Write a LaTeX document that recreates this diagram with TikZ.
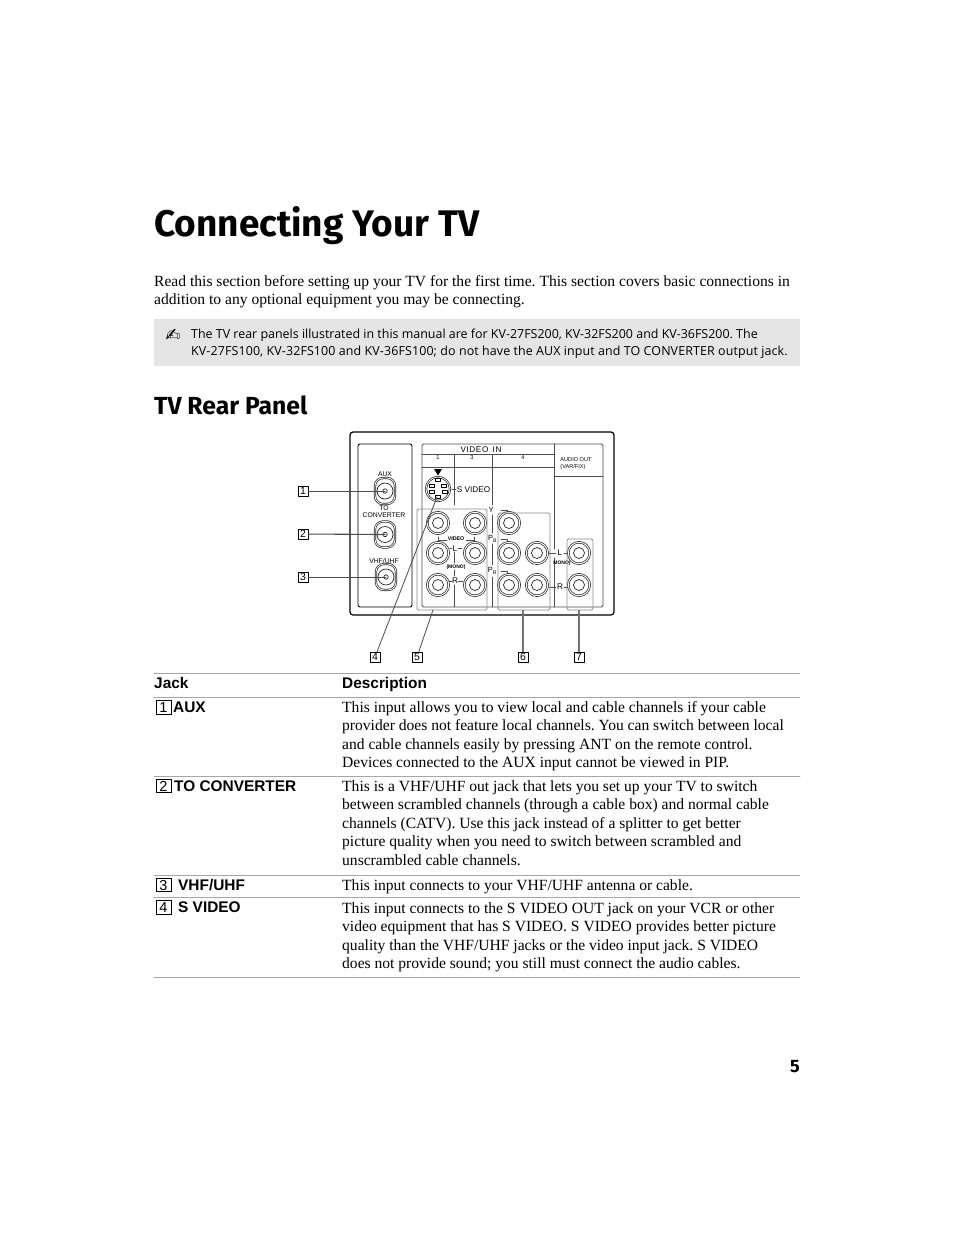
\documentclass[tikz,border=0pt]{standalone}
\usepackage{fontspec}
\setmainfont{Liberation Serif}
\setsansfont{Liberation Sans}
\newfontfamily\headfont{Fira Sans}
\newfontfamily\notefont{Open Sans}
\newfontfamily\symfont{DejaVu Sans}
\usetikzlibrary{positioning}
\usetikzlibrary{shadows}
\tikzset{
  body/.style={anchor=north west,inner sep=0pt,align=left,font=\frenchspacing\fontsize{15.57}{18.6}\selectfont},
  notetext/.style={anchor=north west,inner sep=0pt,align=left,font=\frenchspacing\notefont\fontsize{12.45}{17}\selectfont},
  tabhead/.style={anchor=base west,inner sep=0pt,font=\sffamily\bfseries\fontsize{15.4}{16}\selectfont},
  tabkey/.style={draw,fill=white,line width=.7pt,inner sep=0pt,minimum width=15pt,minimum height=13.5pt,font=\sffamily\fontsize{14.5}{15}\selectfont,drop shadow={shadow xshift=.6pt,shadow yshift=-.6pt,opacity=1,fill=black}},
  tabrule/.style={draw=black!35,line width=.7pt},
  callout/.style={draw,line width=.6pt,inner sep=0pt,minimum width=10pt,minimum height=10pt,font=\sffamily\fontsize{10.5}{10}\selectfont},
  leader/.style={draw=black!70,line width=.8pt},
  panelline/.style={draw=black!70,line width=.6pt},
  tiny/.style={inner sep=0pt,align=center,font=\sffamily\fontsize{6.8}{7.4}\selectfont},
  micro/.style={inner sep=0pt,align=left,font=\sffamily\fontsize{5.6}{7}\selectfont},
  small/.style={inner sep=0pt,font=\sffamily\fontsize{8.2}{9}\selectfont},
  rcajack/.style={circle,draw=black!85,double=white,double distance=1pt,line width=.7pt,inner sep=0pt,minimum size=21.5pt,
    path picture={\draw[draw=black!85,line width=.7pt] (path picture bounding box.center) circle (5.5pt);}},
  fjack/.style={rectangle,rounded corners=8pt,draw=black!85,double=white,double distance=.8pt,line width=.7pt,inner sep=0pt,minimum width=20pt,minimum height=26pt,
    path picture={\draw[draw=black!85,line width=.7pt] (path picture bounding box.center) circle (8pt);
      \draw[draw=black!85,fill=white,line width=.7pt] (path picture bounding box.center) circle (2.2pt);}},
  groupbox/.style={draw=black!45,line width=.9pt,rounded corners=1.5pt,inner sep=0pt},
}
\begin{document}
\begin{tikzpicture}[line cap=round,line join=round,x=1pt,y=-1pt]
\useasboundingbox (0,0) rectangle (954,1235);
\fill[white] (0,0) rectangle (954,1235);
% heading and intro
\node[anchor=base west,inner sep=0pt,font=\headfont\bfseries\fontsize{37}{44}\selectfont] (title) at (154,236) {Connecting Your TV};
\node[body] (intro) at (154,275) {Read this section before setting up your TV for the first time. This section covers basic connections in\\addition to any optional equipment you may be connecting.};
\fill[black!10] (154,319) rectangle (800,366);
\node[inner sep=0pt,font=\symfont\fontsize{18}{18}\selectfont] (pen) at (173,335) {✍};
\node[notetext] (note) at (191,329) {The TV rear panels illustrated in this manual are for KV-27FS200, KV-32FS200 and KV-36FS200. The\\{\addfontfeature{LetterSpace=0.9}KV-27FS100, KV-32FS100 and KV-36FS100; do not have the AUX input and TO CONVERTER output jack.}};
\node[anchor=base west,inner sep=0pt,font=\headfont\bfseries\fontsize{24.7}{28}\selectfont] (rear) at (154,414) {TV Rear Panel};
% panel
\draw[line width=1.2pt,rounded corners=3pt] (350,432) rectangle (614,615);
\draw[line width=.9pt,rounded corners=2pt] (358,444) rectangle (412,607);
\draw[panelline,rounded corners=1.5pt,line width=.8pt] (422,444) rectangle (603,607);
\draw[panelline] (422,454.5) -- (554,454.5);
\draw[panelline] (422,467) -- (554,467);
\draw[panelline] (554,444) -- (554,549);
\draw[panelline] (554,558) -- (554,607);
\draw[panelline] (554,476) -- (603,476);
\draw[panelline] (454,454.5) -- (454,505);
\draw[panelline] (454,552) -- (454,563);
\draw[panelline] (454,570) -- (454,576);
\draw[panelline] (454,585) -- (454,607);
\draw[panelline] (492,454.5) -- (492,505);
\draw[panelline] (492,515) -- (492,533);
\draw[panelline] (492,544) -- (492,565);
\draw[panelline] (492,577) -- (492,607);
% panel labels
\node[tiny] (auxlab) at (385,474.5) {AUX};
\node[tiny] (convlab) at (384,511.5) {TO\\CONVERTER};
\node[tiny] (vhflab) at (384,561) {VHF/UHF};
\node[small] (vidin) at (481,449.5) {V\hspace{.6pt}I\hspace{.6pt}D\hspace{.6pt}E\hspace{.6pt}O\, \hspace{.6pt}I\hspace{.6pt}N};
\node[micro] (col1) at (438,458) {1};
\node[micro] (col3) at (472,458) {3};
\node[micro] (col4) at (523,458) {4};
\node[micro] (audio) at (576,464) {AUDIO OUT\\(VAR/FIX)};
\node[small] (svid) at (473.5,489.5) {S VIDEO};
\node[small,font=\sffamily\fontsize{7.5}{8}\selectfont] (ylab) at (491,510) {Y};
\node[small,font=\sffamily\fontsize{7.5}{8}\selectfont] (pblab) at (492.5,539) {P\textsubscript{B}};
\node[small,font=\sffamily\fontsize{7.5}{8}\selectfont] (prlab) at (492.5,571) {P\textsubscript{R}};
\node[micro,font=\sffamily\bfseries\fontsize{5.3}{6}\selectfont] (vidlab) at (456,538.5) {VIDEO};
\node[small] (llab) at (455,548.5) {L};
\node[small] (rlab) at (455,581) {R};
\node[micro,font=\sffamily\bfseries\fontsize{5}{6}\selectfont] (monolab) at (456,567) {(MONO)};
\node[small] (llab2) at (560,553) {L};
\node[small] (rlab2) at (560,587) {R};
\node[micro,font=\sffamily\bfseries\fontsize{5}{6}\selectfont] (monolab2) at (562,563) {MONO)};
\draw[panelline] (438,537) -- (438,540) -- (447,540);
\draw[panelline] (466,540) -- (474,540) -- (474,537);
\draw[panelline] (450,548.5) -- (452,548.5);
\draw[panelline] (458,548.5) -- (462,548.5);
\draw[panelline] (449,581) -- (452,581);
\draw[panelline] (458,581) -- (463,581);
\draw[panelline] (501,510) -- (507,510) -- (507,513);
\draw[panelline] (501,539) -- (507,539) -- (507,542);
\draw[panelline] (501,571) -- (507,571) -- (507,575);
\draw[panelline] (549,553) -- (556,553);
\draw[panelline] (564,553) -- (569,553);
\draw[panelline] (549,587) -- (556,587);
\draw[panelline] (564,587) -- (569,587);
\draw[panelline] (452,489) -- (456,489);
% jacks
\node[fjack] (aux) at (385,491) {};
\node[fjack] (conv) at (385,534.5) {};
\node[fjack] (vhf) at (386,577) {};
\node[rcajack] (r11) at (438,523) {};
\node[rcajack] (r12) at (475,523) {};
\node[rcajack] (r21) at (438,553) {};
\node[rcajack] (r22) at (475,553) {};
\node[rcajack] (r31) at (438,585) {};
\node[rcajack] (r32) at (475,585) {};
\node[rcajack] (r41) at (509,523) {};
\node[rcajack] (r51) at (509,553) {};
\node[rcajack] (r52) at (537,553) {};
\node[rcajack] (r61) at (509,585) {};
\node[rcajack] (r62) at (537,585) {};
\node[rcajack] (a1) at (579,553) {};
\node[rcajack] (a2) at (579,585) {};
% s video socket
\node[circle,draw=black!85,double=white,double distance=.8pt,line width=.7pt,inner sep=0pt,minimum size=24pt] (sock) at (438,489) {};
\draw[line width=.6pt] (435.5,478.5) rectangle (440.5,481.5);
\draw[line width=.6pt] (429,484) rectangle (434,487);
\draw[line width=.6pt] (441,484) rectangle (446,487);
\draw[line width=.6pt] (429,490) rectangle (434,493);
\draw[line width=.6pt] (442,490) rectangle (447,493);
\draw[line width=.6pt] (435.5,495) rectangle (440.5,498);
\fill (434,469) -- (442,469) -- (438,475.5) -- cycle;
% groups
\node[groupbox,minimum width=70pt,minimum height=101pt] (g5) at (452,559.5) {};
\node[groupbox,minimum width=52pt,minimum height=97pt] (g6) at (524,561.5) {};
\node[groupbox,minimum width=26pt,minimum height=71pt] (g7) at (580,574.5) {};
% callouts
\node[callout] (n1) at (303,491) {1};
\node[callout] (n2) at (303,534) {2};
\node[callout] (n3) at (303,577) {3};
\node[callout] (n4) at (375,657) {4};
\node[callout] (n5) at (417,657) {5};
\node[callout] (n6) at (523,657) {6};
\node[callout] (n7) at (579,657) {7};
\coordinate (tip4) at (437,497);
\coordinate (tip5) at (433,610);
\draw[leader] (n1) -- (aux.center);
\draw[leader,line width=1.1pt] (n2) -- (conv.center);
\draw[leader] (n3) -- (vhf.center);
\draw[leader] (n4) -- (tip4);
\draw[leader] (n5) -- (tip5);
\draw[leader,line width=1.1pt,draw=black!55] (n6) -- (n6 |- g6.south);
\draw[leader,line width=1.1pt,draw=black!55] (n7) -- (n7 |- g7.south);
% table
\draw[tabrule] (154,673.5) -- (800,673.5);
\draw[tabrule] (154,697.5) -- (800,697.5);
\draw[tabrule] (154,776.5) -- (800,776.5);
\draw[tabrule] (154,875.5) -- (800,875.5);
\draw[tabrule] (154,897.5) -- (800,897.5);
\draw[tabrule] (154,977.5) -- (800,977.5);
\node[tabhead] (jack) at (154,688) {Jack};
\node[tabhead] (descr) at (342,688) {Description};
\node[tabkey] (k1) at (163.5,707.5) {1};
\node[tabhead] (t1) at (173,712) {AUX};
\node[body] (d1) at (342,701) {This input allows you to view local and cable channels if your cable\\provider does not feature local channels. You can switch between local\\and cable channels easily by pressing ANT on the remote control.\\Devices connected to the AUX input cannot be viewed in PIP.};
\node[tabkey] (k2) at (163.5,786) {2};
\node[tabhead] (t2) at (174,791) {TO CONVERTER};
\node[body] (d2) at (342,780) {This is a VHF/UHF out jack that lets you set up your TV to switch\\between scrambled channels (through a cable box) and normal cable\\channels (CATV). Use this jack instead of a splitter to get better\\picture quality when you need to switch between scrambled and\\unscrambled cable channels.};
\node[tabkey] (k3) at (163.5,885) {3};
\node[tabhead] (t3) at (178,890) {VHF/UHF};
\node[body] (d3) at (342,879) {This input connects to your VHF/UHF antenna or cable.};
\node[tabkey] (k4) at (163.5,907.5) {4};
\node[tabhead] (t4) at (178,912) {S VIDEO};
\node[body] (d4) at (342,902) {This input connects to the S VIDEO OUT jack on your VCR or other\\video equipment that has S VIDEO. S VIDEO provides better picture\\quality than the VHF/UHF jacks or the video input jack. S VIDEO\\does not provide sound; you still must connect the audio cables.};
\node[anchor=base east,inner sep=0pt,font=\headfont\bfseries\fontsize{18}{20}\selectfont] (pageno) at (800,1072) {5};
\end{tikzpicture}
\end{document}
